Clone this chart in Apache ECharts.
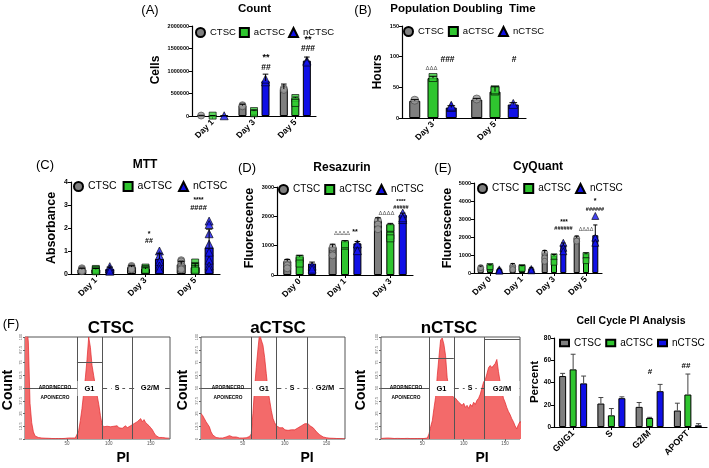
<!DOCTYPE html>
<html><head><meta charset="utf-8">
<script src="https://cdn.jsdelivr.net/npm/echarts@6/dist/echarts.min.js"></script>
<style>html,body{margin:0;padding:0;background:#fff}#c{width:709px;height:468px}</style>
</head><body><div id="c"></div>
<script>
const FONT = '"Liberation Sans", Arial, sans-serif';
const GROUPS = ['CTSC','aCTSC','nCTSC'];
const SYMS = ['circle','rect','triangle'];
const FILLS = ['#7f7f7f','#2fc52f','#1010e6'];
const PTFILLS = ['#9a9a9a','#33cc33','#1414f0'];

// (A) Count
const countDays = ['Day 1','Day 3','Day 5'];
const countCTSC = [10000,230000,600000];
const countACTSC = [8000,110000,400000];
const countNCTSC = [5000,780000,1230000];
const countSdCTSC = [5000,30000,110000];
const countSdACTSC = [2000,20000,20000];
const countSdNCTSC = [3000,150000,80000];
const countPtsCTSC = [[0,10000],[1,240000],[1,215000],[2,615000],[2,580000]];
const countPtsACTSC = [[0,8000],[1,110000],[1,60000],[2,400000],[2,290000]];
const countPtsNCTSC = [[0,5000],[1,760000],[1,820000],[2,1230000],[2,1200000]];

// (B) Population doubling time
const pdtDays = ['Day 3','Day 5'];
const pdtCTSC = [28,30];
const pdtACTSC = [65,43];
const pdtNCTSC = [17,22];
const pdtSdCTSC = [2,2];
const pdtSdACTSC = [3,8];
const pdtSdNCTSC = [3,3];
const pdtPtsCTSC = [[0,29],[1,31]];
const pdtPtsACTSC = [[0,66],[1,44],[1,46]];
const pdtPtsNCTSC = [[0,18],[0,20],[1,23]];

// (C) MTT
const mttDays = ['Day 1','Day 3','Day 5'];
const mttCTSC = [0.2,0.3,0.42];
const mttACTSC = [0.2,0.22,0.3];
const mttNCTSC = [0.22,0.65,1.15];
const mttSdCTSC = [0.05,0.06,0.13];
const mttSdACTSC = [0.04,0.05,0.15];
const mttSdNCTSC = [0.08,0.25,0.8];
const mttPtsCTSC = [[0,0.25],[0,0.2],[0,0.15],[0,0.12],[1,0.35],[1,0.3],[1,0.25],[1,0.2],[2,0.6],[2,0.55],[2,0.45],[2,0.35],[2,0.25],[2,0.2]];
const mttPtsACTSC = [[0,0.22],[0,0.18],[0,0.12],[1,0.28],[1,0.22],[1,0.18],[2,0.5],[2,0.35],[2,0.22],[2,0.15]];
const mttPtsNCTSC = [[0,0.32],[0,0.22],[0,0.12],[1,1.0],[1,0.8],[1,0.55],[1,0.35],[1,0.2],[2,2.3],[2,2.15],[2,1.75],[2,1.3],[2,0.95],[2,0.6],[2,0.35],[2,0.2]];

// (D) Resazurin
const resDays = ['Day 0','Day 1','Day 3'];
const resCTSC = [470,950,1850];
const resACTSC = [620,1130,1720];
const resNCTSC = [390,1080,2050];
const resSdCTSC = [60,100,100];
const resSdACTSC = [40,40,40];
const resSdNCTSC = [50,60,60];
const resPtsCTSC = [[0,440],[0,330],[0,230],[1,940],[1,670],[2,1860],[2,1720],[2,1560]];
const resPtsACTSC = [[0,560],[0,390],[1,1000],[1,1050],[2,1610],[2,1340],[2,1250]];
const resPtsNCTSC = [[0,300],[0,200],[1,1060],[1,830],[2,2110],[2,1890],[2,1950]];

// (E) CyQuant
const cyqDays = ['Day 0','Day 1','Day 3','Day 5'];
const cyqCTSC = [330,450,1100,1950];
const cyqACTSC = [410,370,950,1050];
const cyqNCTSC = [220,260,1550,2100];
const cyqSdCTSC = [60,80,150,100];
const cyqSdACTSC = [50,40,80,60];
const cyqSdNCTSC = [40,50,120,570];
const cyqPtsCTSC = [[0,190],[0,300],[1,370],[1,190],[2,1120],[2,840],[2,650],[3,1920],[3,1770]];
const cyqPtsACTSC = [[0,280],[0,360],[1,300],[1,250],[2,900],[2,600],[3,970],[3,690]];
const cyqPtsNCTSC = [[0,200],[0,130],[1,220],[1,150],[2,1680],[2,1400],[2,1210],[3,3170],[3,1960],[3,1680]];

// (F) Cell cycle PI analysis
const phases = ['G0/G1','S','G2/M','APOPT'];
const ccCTSC = [45.8,21.1,18.1,14.8];
const ccACTSC = [51.8,10.5,8.1,29.2];
const ccNCTSC = [39.2,25.9,32.2,1.5];
const ccSdCTSC = [2.4,5.4,3.9,6.6];
const ccSdACTSC = [13.6,6.1,0.6,18.4];
const ccSdNCTSC = [6.6,1.2,6.1,1.5];

// (F) PI histograms (relative count, % of panel height)
const piBins = [0,2,4,6,8,10,12,14,16,18,20,22,24,26,28,30,32,34,36,38,40,42,44,46,48,50,52,54,56,58,60,62,64,66,68,70,72,74,76,78,80,82,84,86,88,90,92,94,96,98,100,102,104,106,108,110,112,114,116,118,120,122,124,126,128,130,132,134,136,138,140,142,144,146,148,150,152,154,156,158,160,162,164,166,168,170,172];
const histCTSC = [130,130,95,35,16,7,3,2,1.5,1, 1,0.8,0.8,0.6,0.7,0.5,0.5,0.6,0.4,0.4, 0.5,0.4,0.4,0.5,0.6,0.6,1,1.5,1,0.8, 1,2,8,18,30,45,60,78,100,90, 72,62,52,43,34,23,14,12,11,12.5, 11,12,10.5,12.5,11,13,11,12,10.5,12, 13,11,12.5,13,12,15,14,17,16,20, 17,19,16,17,13,11,9,6,3.5,2, 1.5,1,1.5,0.8,1,0.6,0.8];
const histACTSC = [25,23,20,17,17,12,7,4,2.5,1.5, 1,1,0.8,1,1.2,2,3,3.3,2.5,2, 2.5,2,1.5,1,1.2,1,1,1.2,1.5,2.5, 5,25,50,70,88,104,97,92,80,64, 48,38,28,20,16,13,12,11,10,11, 9,10,8.5,10,9,8,9,10,11,12, 13,14,15,14,15,13,12,11,9,7, 5.5,4,3,2,1.6,1.2,1,0.8,0.7,0.7, 0.6,0.5,0.5,0.4,0.4,0.3,0.3];
const histNCTSC = [0.5,0.6,0.8,0.5,1,1.2,0.8,0.6,0.5,0.5, 0.6,0.4,0.5,0.4,0.5,0.4,0.6,0.5,0.4,0.5, 0.4,0.6,0.5,0.4,0.5,0.6,0.5,0.7,1,5, 12,18,30,41,62,80,97,99,93,82, 60,50,44,42,41,40,38,36,37,33, 35,31,33,30,34,32,36,34,38,40, 44,50,56,58,64,70,72,70,72,74, 78,66,56,48,40,36,31,27,24,20, 17,13,10,14,17,16,15];
const gatesCTSC = [62,92,128];
const gatesACTSC = [60,90,127];
const gatesNCTSC = [58,88,125];

// ---------- build ----------
const grids = [], xAxes = [], yAxes = [], series = [], legends = [];

function errSeries(i, means, sds, dx, cap, col){
  const data = means.map((m,j)=>[j, m, m + sds[j]]);
  return {type:'custom', name:'sd', xAxisIndex:i, yAxisIndex:i, z:4, silent:true,
    encode:{x:0, y:[1,2]}, data,
    renderItem:(params, api)=>{
      const a = api.coord([api.value(0), api.value(1)]);
      const b = api.coord([api.value(0), api.value(2)]);
      const x = a[0] + dx;
      return {type:'group', children:[
        {type:'line', shape:{x1:x,y1:a[1],x2:x,y2:b[1]}, style:{stroke:col,lineWidth:1}},
        {type:'line', shape:{x1:x-cap,y1:b[1],x2:x+cap,y2:b[1]}, style:{stroke:col,lineWidth:1}}
      ]};
    }};
}

const panels = [
  {cats:countDays, means:[countCTSC,countACTSC,countNCTSC], sds:[countSdCTSC,countSdACTSC,countSdNCTSC], pts:[countPtsCTSC,countPtsACTSC,countPtsNCTSC],
   grid:{left:192,top:26,width:124,height:90}, max:2000000, int:500000, barW:8, gap:0.44, sym:7, yFont:5.5,
   legend:{left:195,top:27,fs:9.5,gap:3}},
  {cats:pdtDays, means:[pdtCTSC,pdtACTSC,pdtNCTSC], sds:[pdtSdCTSC,pdtSdACTSC,pdtSdNCTSC], pts:[pdtPtsCTSC,pdtPtsACTSC,pdtPtsNCTSC],
   grid:{left:402,top:26,width:124,height:92}, max:150, int:50, barW:11, gap:0.66, sym:8, yFont:5.5,
   legend:{left:403,top:26,fs:9.5,gap:4}},
  {cats:mttDays, means:[mttCTSC,mttACTSC,mttNCTSC], sds:[mttSdCTSC,mttSdACTSC,mttSdNCTSC], pts:[mttPtsCTSC,mttPtsACTSC,mttPtsNCTSC],
   grid:{left:71,top:182,width:149,height:92}, max:4, int:1, barW:9, gap:0.55, sym:7, yFont:7,
   legend:{left:73,top:181,fs:10.5,gap:6}},
  {cats:resDays, means:[resCTSC,resACTSC,resNCTSC], sds:[resSdCTSC,resSdACTSC,resSdNCTSC], pts:[resPtsCTSC,resPtsACTSC,resPtsNCTSC],
   grid:{left:277,top:187,width:136,height:88}, max:3000, int:1000, barW:8, gap:0.55, sym:7, yFont:5.5,
   legend:{left:278,top:184,fs:10,gap:4}},
  {cats:cyqDays, means:[cyqCTSC,cyqACTSC,cyqNCTSC], sds:[cyqSdCTSC,cyqSdACTSC,cyqSdNCTSC], pts:[cyqPtsCTSC,cyqPtsACTSC,cyqPtsNCTSC],
   grid:{left:474,top:183,width:128,height:90}, max:5000, int:1000, barW:6, gap:0.55, sym:6, yFont:5.5,
   legend:{left:477,top:183,fs:10,gap:4}},
  {cats:phases, means:[ccCTSC,ccACTSC,ccNCTSC], sds:[ccSdCTSC,ccSdACTSC,ccSdNCTSC], pts:null,
   grid:{left:554,top:338,width:153,height:89}, max:80, int:20, barW:7, gap:0.5, sym:0, yFont:6.5, xFont:9, errCol:'#444',
   legend:{left:559,top:338,fs:10,gap:4,rect:true}}
];

panels.forEach((p,i)=>{
  grids.push(Object.assign({}, p.grid));
  xAxes.push({type:'category', gridIndex:i, data:p.cats,
    axisLine:{show:true,lineStyle:{color:'#000',width:1.2}},
    axisTick:{show:true,alignWithLabel:true,length:3,lineStyle:{color:'#000',width:1}},
    axisLabel:{rotate:45, fontSize:p.xFont||8.5, fontWeight:'bold', color:'#000', margin:5, fontFamily:FONT}});
  yAxes.push({type:'value', gridIndex:i, min:0, max:p.max, interval:p.int, splitLine:{show:false},
    axisLine:{show:true,lineStyle:{color:'#000',width:1.2}},
    axisTick:{show:true,length:3,lineStyle:{color:'#000',width:1}},
    axisLabel:{fontSize:p.yFont, fontWeight:'bold', color:'#000', margin:3, fontFamily:FONT,
      formatter:(v)=>String(v)}});
  const off = p.barW*(1+p.gap);
  for (let k=0;k<3;k++){
    series.push({type:'bar', name:GROUPS[k], xAxisIndex:i, yAxisIndex:i, data:p.means[k],
      barWidth:p.barW, barGap:(p.gap*100)+'%',
      itemStyle:{color:FILLS[k], borderColor:'#000', borderWidth:1}, z:2});
    if (p.pts){
      series.push({type:'scatter', name:GROUPS[k]+' replicates', xAxisIndex:i, yAxisIndex:i, data:p.pts[k],
        symbol:SYMS[k], symbolSize:k===2? p.sym+1 : p.sym, symbolOffset:[(k-1)*off,0],
        itemStyle:{color:PTFILLS[k], borderColor:k===0?'#444':'#000', borderWidth:0.8}, z:3, silent:true});
    }
    series.push(errSeries(i, p.means[k], p.sds[k], (k-1)*off, p.barW*0.35, p.errCol||'#000'));
  }
  const L = p.legend;
  legends.push({left:L.left, top:L.top, orient:'horizontal', itemGap:L.gap, padding:0, selectedMode:false,
    itemWidth:9, itemHeight:L.rect?6.5:9,
    textStyle:{fontSize:L.fs, color:'#000', fontFamily:FONT},
    data:GROUPS.map((g,k)=>({name:g, icon: L.rect ? 'rect' : SYMS[k]}))});
});

// histograms
const hists = [
  {data:histCTSC, gates:gatesCTSC, grid:{left:25,top:337,width:145,height:102}, max:173, g1Top:75},
  {data:histACTSC, gates:gatesACTSC, grid:{left:201,top:337,width:144,height:102}, max:172, g1Top:null},
  {data:histNCTSC, gates:gatesNCTSC, grid:{left:381,top:337,width:139,height:102}, max:168, g1Top:79, g2Top:97.5}
];
hists.forEach((h,j)=>{
  const i = panels.length + j;
  grids.push(Object.assign({show:true, borderColor:'#555', borderWidth:1, backgroundColor:'#fff'}, h.grid));
  xAxes.push({type:'value', gridIndex:i, min:0, max:h.max, interval:50, splitLine:{show:false},
    axisLine:{show:false}, axisTick:{show:true,length:2,lineStyle:{color:'#666'}},
    axisLabel:{fontSize:4.5, color:'#555', margin:2, showMinLabel:false, showMaxLabel:false, fontFamily:FONT}});
  yAxes.push({type:'value', gridIndex:i, min:0, max:100, interval:12.5, splitLine:{show:false},
    axisLine:{show:false}, axisTick:{show:true,length:2,lineStyle:{color:'#666'}},
    axisLabel:{fontSize:4, color:'#666', margin:2, rotate:90, fontFamily:FONT}});
  const g = h.gates;
  const ml = [
    {xAxis:g[0]}, {xAxis:g[1]}, {xAxis:g[2]},
    [{coord:[0,50]},{coord:[g[0],50]}],
    [{coord:[g[1],50], lineStyle:{type:[5,4], color:'#555', width:1}},{coord:[h.max,50]}]
  ];
  if (h.g1Top) ml.push([{coord:[g[0],h.g1Top]},{coord:[g[1],h.g1Top]}]);
  if (h.g2Top) ml.push([{coord:[g[2],h.g2Top]},{coord:[h.max,h.g2Top]}]);
  series.push({type:'line', name:'PI '+GROUPS[j], xAxisIndex:i, yAxisIndex:i,
    data: piBins.map((b,n)=>[b, h.data[n]]), showSymbol:false, symbol:'none', clip:true, silent:true,
    lineStyle:{color:'#e3262b', width:0.7}, areaStyle:{color:'#f36a6a', opacity:1}, z:2,
    markLine:{silent:true, symbol:['none','none'], label:{show:false}, animation:false,
      lineStyle:{color:'#555', width:1, type:'solid'}, data:ml}});
});

// ---------- text / annotations ----------
function T(x,y,text,size,opt){
  opt = opt||{};
  const st = {text, fontSize:size, fontWeight:opt.w||'normal', fill:opt.c||'#000', fontFamily:FONT,
    align:'center', verticalAlign:'middle'};
  if (opt.bg){ st.backgroundColor = opt.bg; st.padding = opt.pad||[0,3]; }
  return {type:'text', x, y, z:100, rotation:opt.rot||0, style:st, silent:true};
}
function R(x,y,w,h){ return {type:'rect', z:99, silent:true, shape:{x,y,width:w,height:h}, style:{fill:'#fff'}}; }
const V = Math.PI/2;
const B = {w:'bold'};
const G = {c:'#555'};
const els = [
  T(150,10,'(A)',13), T(254.5,9,'Count',11.5,B),
  T(363,10,'(B)',13), T(463,9,'Population Doubling  Time',11.5,B),
  T(45,165,'(C)',13), T(145,165,'MTT',12,B),
  T(247,168,'(D)',13), T(342,168,'Resazurin',12,B),
  T(443,168,'(E)',13), T(538,167,'CyQuant',12,B),
  T(11,324,'(F)',13),
  T(111,328,'CTSC',17,B), T(278,328,'aCTSC',17,B), T(449,328,'nCTSC',17,B),
  T(631,321,'Cell Cycle PI Analysis',10.5,B),
  // axis names
  T(156,70,'Cells',12,{w:'bold',rot:V}), T(378,72,'Hours',12,{w:'bold',rot:V}),
  T(52,228,'Absorbance',12.5,{w:'bold',rot:V}), T(250,228,'Fluorescence',12.5,{w:'bold',rot:V}),
  T(448,228,'Fluorescence',12.5,{w:'bold',rot:V}), T(535,382,'Percent',11.5,{w:'bold',rot:V}),
  T(8,390,'Count',14,{w:'bold',rot:V}), T(183,390,'Count',14,{w:'bold',rot:V}), T(361,390,'Count',14,{w:'bold',rot:V}),
  T(123,458,'PI',14,B), T(307,458,'PI',14,B), T(482,458,'PI',14,B),
  // significance marks
  T(266,58,'**',9,B), T(266,68,'##',8.5,B), T(308,40,'**',9,B), T(308,49,'###',8.5,B),
  T(431.5,68,'ΔΔΔ',6,G), T(447.5,60,'###',8.5,B), T(514,60,'#',8.5,B),
  T(149,234,'*',7,B), T(149,241,'##',7,B), T(198.5,200,'****',6.5,B), T(198.5,208,'####',7.5,B),
  T(342,233,'ΔΔΔΔ',6,G), T(355,232,'**',7,B), T(386.5,213,'ΔΔΔΔ',6,G), T(401,201,'****',6,B), T(401,207,'#####',5.5,B),
  T(564,222,'***',6.5,B), T(563.5,228,'######',5.5,B), T(586,229,'ΔΔΔΔ',5.5,G), T(595,201,'*',7,B), T(595,209,'######',5.5,B),
  T(650,372,'#',8,B), T(686,366,'##',8,B),
  // gate boxes & labels
  R(77.5,381,24,15), R(252,381,24,15), R(430,381,23.5,15), R(485,381,34.5,15),
  T(55,388,'APOP/NECRO',4.8,B), T(55,398,'APO/NECRO',4.8,B),
  T(89.5,388.5,'G1',7.5,B), T(117,388,'S',7,{w:'bold',bg:'#fff'}), T(150,388,'G2/M',7.5,{w:'bold',bg:'#fff'}),
  T(228,388,'APOP/NECRO',4.8,B), T(228,398,'APO/NECRO',4.8,B),
  T(264,388.5,'G1',7.5,B), T(292,388,'S',7,{w:'bold',bg:'#fff'}), T(325,388,'G2/M',7.5,{w:'bold',bg:'#fff'}),
  T(406,388,'APOP/NECRO',4.8,B), T(406,398,'APO/NECRO',4.8,B),
  T(441.5,388.5,'G1',7.5,B), T(470,388,'S',7,{w:'bold',bg:'#fff'}), T(502,388.5,'G2/M',7.5,B)
];

const chart = echarts.init(document.getElementById('c'), null, {renderer:'canvas'});
chart.setOption({
  animation:false, backgroundColor:'#fff', textStyle:{fontFamily:FONT},
  grid:grids, xAxis:xAxes, yAxis:yAxes, legend:legends, series,
  graphic:{elements:els}
});
</script></body></html>
